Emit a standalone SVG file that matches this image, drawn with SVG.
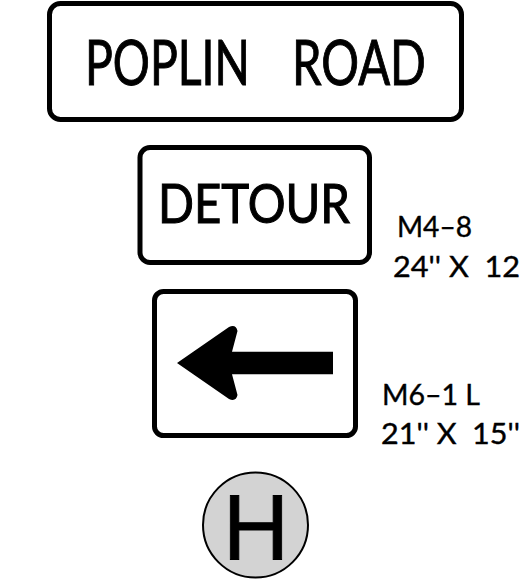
<svg xmlns="http://www.w3.org/2000/svg" width="522" height="583" viewBox="0 0 522 583">
<style>
.sign{fill:#fff;stroke:#000;stroke-width:5}
.t{font-family:"Lato","Liberation Sans",sans-serif;fill:#000;stroke:#000;white-space:pre}
.big{font-size:61px;stroke-width:1}
.small{font-size:29px;stroke-width:.4}
</style>
<rect width="522" height="583" fill="#fff"/>
<g id="poplin-road">
<rect class="sign" x="49.500" y="3.500" width="412" height="116" rx="11"/>
<text class="t big" y="85"><tspan x="85" textLength="165" lengthAdjust="spacingAndGlyphs">POPLIN</tspan> <tspan x="292" textLength="134" lengthAdjust="spacingAndGlyphs">ROAD</tspan></text>
</g>
<g id="detour">
<rect class="sign" x="140" y="147.500" width="229.500" height="115" rx="10"/>
<text class="t" x="158" y="223" font-size="54" stroke-width="1.100" textLength="192" lengthAdjust="spacingAndGlyphs">DETOUR</text>
</g>
<g id="m4-8-label">
<text class="t small" x="397" y="237" textLength="75" lengthAdjust="spacingAndGlyphs">M4–8</text>
<text class="t small" x="393" y="277" textLength="127" lengthAdjust="spacingAndGlyphs">24'' X  12</text>
</g>
<g id="arrow-sign">
<rect class="sign" x="154.500" y="291.500" width="201" height="144" rx="9"/>
<path d="M177 363 L229 327 Q236 324 237.500 331 L232 351.700 L333 351.700 L333 374.300 L232 374.300 L237.500 395 Q236 402 229 399 Z" fill="#000"/>
</g>
<g id="m6-1-label">
<text class="t small" x="382" y="405" textLength="98" lengthAdjust="spacingAndGlyphs">M6–1 L</text>
<text class="t small" x="381" y="444" textLength="139" lengthAdjust="spacingAndGlyphs">21'' X  15''</text>
</g>
<g id="h-marker">
<circle cx="255.500" cy="525" r="52.500" fill="#d3d3d3" stroke="#000" stroke-width="2"/>
<text x="256" y="559.500" text-anchor="middle" font-family="Liberation Sans,sans-serif" font-size="92" fill="#000" stroke="#000" stroke-width=".8">H</text>
</g>
</svg>
